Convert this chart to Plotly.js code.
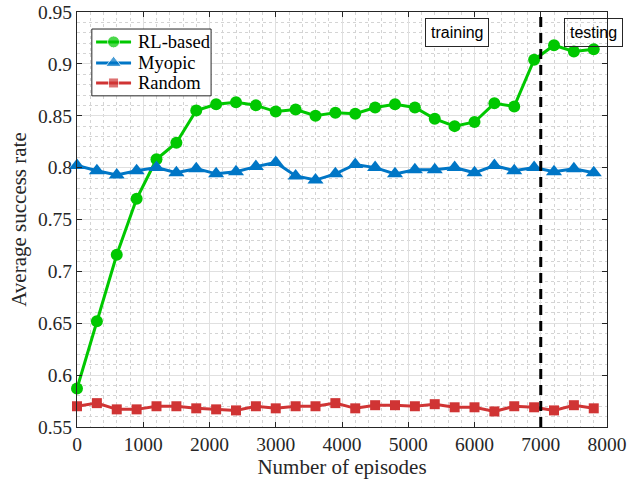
<!DOCTYPE html>
<html>
<head>
<meta charset="utf-8">
<script src="https://cdn.plot.ly/plotly-3.0.1.min.js"></script>
<style>
  html, body { margin: 0; padding: 0; background: #fff; }
  #chart { width: 635px; height: 480px; }
</style>
</head>
<body>
<div id="chart"></div>
<script>
// Episodes sampled every 300 steps
const episodes = [0, 300, 600, 900, 1200, 1500, 1800, 2100, 2400, 2700, 3000, 3300, 3600, 3900,
  4200, 4500, 4800, 5100, 5400, 5700, 6000, 6300, 6600, 6900, 7200, 7500, 7800];

const rlBased = [0.587, 0.652, 0.716, 0.770, 0.808, 0.824, 0.855, 0.861, 0.863, 0.860, 0.854, 0.856,
  0.850, 0.853, 0.852, 0.858, 0.861, 0.858, 0.847, 0.840, 0.844, 0.862, 0.859, 0.904, 0.918, 0.912, 0.914];

const myopic = [0.802, 0.797, 0.793, 0.797, 0.800, 0.795, 0.799, 0.794, 0.796, 0.801, 0.805, 0.792,
  0.788, 0.794, 0.803, 0.800, 0.794, 0.798, 0.798, 0.800, 0.795, 0.802, 0.797, 0.800, 0.796, 0.799, 0.795];

const randomPolicy = [0.570, 0.573, 0.567, 0.567, 0.570, 0.570, 0.568, 0.567, 0.566, 0.570, 0.568, 0.570,
  0.570, 0.573, 0.568, 0.571, 0.571, 0.570, 0.572, 0.569, 0.569, 0.565, 0.570, 0.569, 0.566, 0.571, 0.568];

const seriesNames = ['RL-based', 'Myopic', 'Random'];
const phaseLabels = ['training', 'testing'];
const phaseSplit = 7000;

const xTicks = [0, 1000, 2000, 3000, 4000, 5000, 6000, 7000, 8000];
const yTicks = [0.55, 0.6, 0.65, 0.7, 0.75, 0.8, 0.85, 0.9, 0.95];

const serif = 'Liberation Serif, Times New Roman, serif';
const sans = 'Liberation Sans, Arial, sans-serif';

// Per-series styling
const styles = [
  { color: '#00c800', symbol: 'circle', size: 12 },
  { color: '#0076c6', symbol: 'triangle-up', size: 14 },
  { color: '#d03434', symbol: 'square', size: 10 }
];
const seriesData = [rlBased, myopic, randomPolicy];

const traces = seriesData.map((ys, i) => ({
  x: episodes, y: ys, name: seriesNames[i], type: 'scatter', mode: 'lines+markers',
  line: { color: styles[i].color, width: 3 },
  marker: { symbol: styles[i].symbol, size: styles[i].size, color: styles[i].color },
  cliponaxis: false, showlegend: false
}));

// Compact legend drawn on an overlay axis spanning the plot area (0..1 in both directions)
const legendBox = { x0: 0.028, x1: 0.253, y0: 0.798, y1: 0.959 };
const legendRows = [0.928, 0.877, 0.829];
const legendLine = { x0: 0.036, xm: 0.069, x1: 0.102, text: 0.112 };

// legend frame: white fill so the grid does not show through
traces.push({
  x: [legendBox.x0, legendBox.x1, legendBox.x1, legendBox.x0, legendBox.x0],
  y: [legendBox.y0, legendBox.y0, legendBox.y1, legendBox.y1, legendBox.y0],
  xaxis: 'x2', yaxis: 'y2', type: 'scatter', mode: 'lines', fill: 'toself',
  fillcolor: '#ffffff', line: { color: '#262626', width: 1 },
  showlegend: false, hoverinfo: 'skip', cliponaxis: false
});

legendRows.forEach((ry, i) => {
  traces.push({
    x: [legendLine.x0, legendLine.xm, legendLine.x1], y: [ry, ry, ry],
    xaxis: 'x2', yaxis: 'y2', type: 'scatter', mode: 'lines+markers',
    line: { color: styles[i].color, width: 3 },
    marker: { symbol: styles[i].symbol, size: [0, styles[i].size, 0], color: styles[i].color },
    showlegend: false, hoverinfo: 'skip', cliponaxis: false
  });
});

const axisCommon = {
  showline: true, linecolor: '#262626', linewidth: 1, mirror: 'ticks',
  ticks: 'inside', ticklen: 5, tickcolor: '#262626', tickwidth: 1,
  showgrid: true, gridcolor: '#e0e0e0', gridwidth: 1,
  zeroline: false,
  tickfont: { family: serif, size: 19.5, color: '#262626' }
};

const annotations = [
  {
    text: phaseLabels[0], xref: 'paper', yref: 'paper', x: (457 - 77) / 530, y: 1 - (32.5 - 12) / 415,
    xanchor: 'center', yanchor: 'middle', showarrow: false,
    font: { family: sans, size: 16, color: '#000000' },
    bgcolor: '#ffffff', bordercolor: '#262626', borderwidth: 1, borderpad: 5
  },
  {
    text: phaseLabels[1], xref: 'paper', yref: 'paper', x: (593 - 77) / 530, y: 1 - (32.5 - 12) / 415,
    xanchor: 'center', yanchor: 'middle', showarrow: false,
    font: { family: sans, size: 16, color: '#000000' },
    bgcolor: 'rgba(0,0,0,0)', bordercolor: '#262626', borderwidth: 1, borderpad: 5
  }
];
legendRows.forEach((ry, i) => {
  annotations.push({
    text: seriesNames[i], xref: 'paper', yref: 'paper', x: legendLine.text, y: ry,
    xanchor: 'left', yanchor: 'middle', showarrow: false,
    font: { family: serif, size: 18.5, color: '#000000' }
  });
});

const layout = {
  width: 635, height: 480,
  margin: { l: 77, r: 28, t: 12, b: 53 },
  paper_bgcolor: '#ffffff', plot_bgcolor: '#ffffff',
  showlegend: false,
  xaxis: Object.assign({}, axisCommon, {
    range: [0, 8000], tickvals: xTicks, ticktext: xTicks.map(String),
    minor: { dtick: 200, showgrid: true, gridcolor: '#d4d4d4', griddash: 'dot', gridwidth: 1 },
    title: { text: 'Number of episodes', font: { family: serif, size: 21, color: '#262626' }, standoff: 3 }
  }),
  yaxis: Object.assign({}, axisCommon, {
    range: [0.55, 0.95], tickvals: yTicks, ticktext: yTicks.map(String),
    minor: { dtick: 0.01, showgrid: true, gridcolor: '#d4d4d4', griddash: 'dot', gridwidth: 1 },
    title: { text: 'Average success rate', font: { family: serif, size: 21, color: '#262626' }, standoff: 5 }
  }),
  xaxis2: { overlaying: 'x', range: [0, 1], visible: false, fixedrange: true },
  yaxis2: { overlaying: 'y', range: [0, 1], visible: false, fixedrange: true },
  shapes: [
    {
      type: 'line', xref: 'x', yref: 'paper', x0: phaseSplit, x1: phaseSplit, y0: 0, y1: 1,
      line: { color: '#000000', width: 3, dash: '10px,6px' }
    }
  ],
  annotations: annotations
};

Plotly.newPlot('chart', traces, layout, { displayModeBar: false, staticPlot: true });
</script>
</body>
</html>
